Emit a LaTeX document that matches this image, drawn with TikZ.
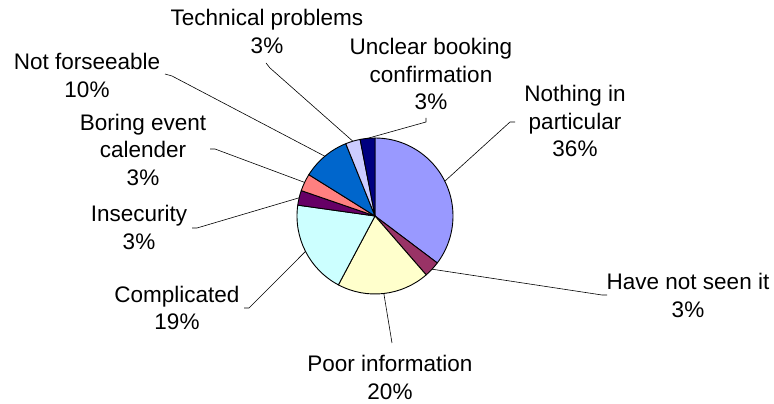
\documentclass[tikz,border=0pt]{standalone}
\usepackage{fontspec}
\setmainfont{Liberation Sans}
\usepackage{tikz}
\usetikzlibrary{positioning,calc}

\definecolor{cNothing}{HTML}{9999FF}
\definecolor{cSeen}{HTML}{993366}
\definecolor{cPoor}{HTML}{FFFFCC}
\definecolor{cCompl}{HTML}{CCFFFF}
\definecolor{cInsec}{HTML}{660066}
\definecolor{cBoring}{HTML}{FF8080}
\definecolor{cForsee}{HTML}{0066CC}
\definecolor{cTech}{HTML}{CCCCFF}
\definecolor{cUnclear}{HTML}{000080}

\begin{document}
\begin{tikzpicture}[x=1pt,y=1pt,
	slice/.style={draw=black,line width=0.9pt,line join=round},
	leader/.style={draw=black,line width=0.6pt},
	lbl/.style={align=center,inner sep=0pt,font=\fontsize{22.5}{27.5}\selectfont}]
	\useasboundingbox (0,0) rectangle (774,404);
	\coordinate (C) at (375,188);

	% slices, clockwise from 12 o'clock
	\filldraw[slice,fill=cNothing] (C) -- ++(90:78) arc (90:-37:78) -- cycle;
	\filldraw[slice,fill=cSeen]    (C) -- ++(-37:78) arc (-37:-49:78) -- cycle;
	\filldraw[slice,fill=cPoor]    (C) -- ++(-49:78) arc (-49:-118:78) -- cycle;
	\filldraw[slice,fill=cCompl]   (C) -- ++(-118:78) arc (-118:-188:78) -- cycle;
	\filldraw[slice,fill=cInsec]   (C) -- ++(-188:78) arc (-188:-199:78) -- cycle;
	\filldraw[slice,fill=cBoring]  (C) -- ++(-199:78) arc (-199:-212:78) -- cycle;
	\filldraw[slice,fill=cForsee]  (C) -- ++(-212:78) arc (-212:-248:78) -- cycle;
	\filldraw[slice,fill=cTech]    (C) -- ++(-248:78) arc (-248:-259:78) -- cycle;
	\filldraw[slice,fill=cUnclear] (C) -- ++(-259:78) arc (-259:-270:78) -- cycle;

	% points on the rim
	\coordinate (Pnothing) at ($(C)+(26.5:78)$);
	\coordinate (Pseen)    at ($(C)+(-43:78)$);
	\coordinate (Ppoor)    at ($(C)+(-83.5:78)$);
	\coordinate (Pcompl)   at ($(C)+(-153:78)$);
	\coordinate (Pinsec)   at ($(C)+(166.5:78)$);
	\coordinate (Pboring)  at ($(C)+(154.5:78)$);
	\coordinate (Pforsee)  at ($(C)+(130:78)$);
	\coordinate (Ptech)    at ($(C)+(106.5:78)$);
	\coordinate (Punclear) at ($(C)+(95.5:78)$);

	% labels
	\node[lbl] (Lnothing) at (575,283) {Nothing in\\particular\\36\%};
	\node[lbl] (Lseen)    at (688,108.5) {Have not seen it\\3\%};
	\node[lbl] (Lpoor)    at (390,26.5) {Poor information\\20\%};
	\node[lbl] (Lcompl)   at (177,96) {Complicated\\19\%};
	\node[lbl] (Linsec)   at (139,176.5) {Insecurity\\3\%};
	\node[lbl] (Lboring)  at (143,254.5) {Boring event\\calender\\3\%};
	\node[lbl] (Lforsee)  at (87,328.5) {Not forseeable\\10\%};
	\node[lbl] (Ltech)    at (267,372.5) {Technical problems\\3\%};
	\node[lbl] (Lunclear) at (431,330) {Unclear booking\\confirmation\\3\%};

	% leader ends
	\coordinate (Tnothing) at (510,282);
	\coordinate (Tseen)    at (602,109);
	\coordinate (Tpoor)    at (392,61);
	\coordinate (Tcompl)   at (249,96);
	\coordinate (Tinsec)   at (197,176);
	\coordinate (Tboring)  at (215,255);
	\coordinate (Tforsee)  at (172,328);
	\coordinate (Ttech)    at (270,336);
	\coordinate (Tunclear) at (426,282);

	\draw[leader] (Pnothing) -- (Tnothing) -- ++(5,0);
	\draw[leader] (Pseen) -- (Tseen) -- ++(5,0);
	\draw[leader] (Ppoor) -- (Tpoor);
	\draw[leader] (Pcompl) -- (Tcompl) -- ++(-5,0);
	\draw[leader] (Pinsec) -- (Tinsec) -- ++(-5,0);
	\draw[leader] (Pboring) -- (Tboring) -- ++(-5,0);
	\draw[leader] (Pforsee) -- (Tforsee) -- ++(-7,2);
	\draw[leader] (Ptech) -- (Ttech) -- ++(-4,5);
	\draw[leader] (Punclear) -- (Tunclear) -- ++(0,4);
\end{tikzpicture}
\end{document}
